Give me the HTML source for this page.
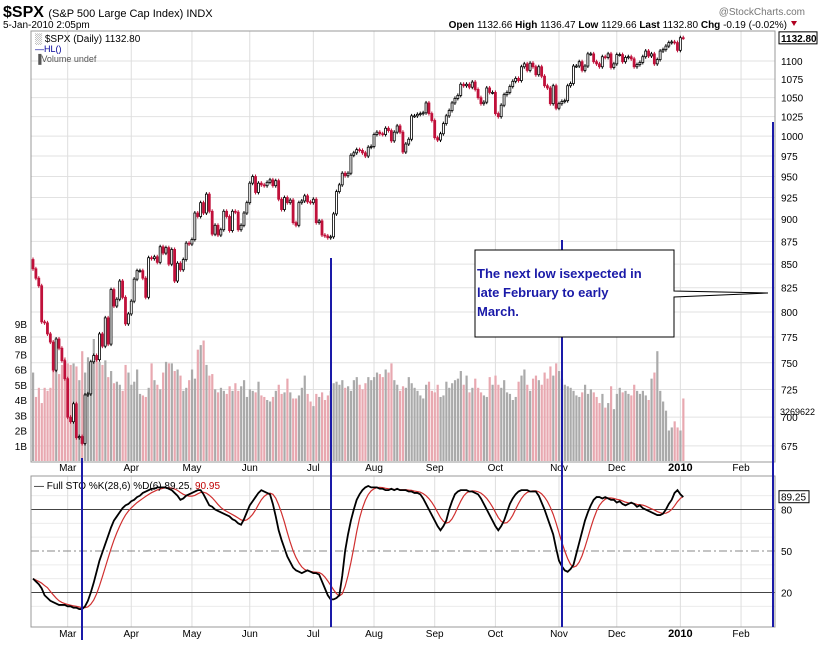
<!DOCTYPE html>
<html><head><meta charset="utf-8">
<style>
body{margin:0;background:#fff;width:820px;height:644px;overflow:hidden;font-family:"Liberation Sans",sans-serif;}
svg text{font-family:"Liberation Sans",sans-serif;}
</style></head>
<body>
<svg id="chart" width="820" height="644" viewBox="0 0 820 644" xmlns="http://www.w3.org/2000/svg">
<g>
<text x="3" y="17" font-size="16" font-weight="bold" fill="#000">$SPX <tspan font-size="11" font-weight="normal">(S&amp;P 500 Large Cap Index) INDX</tspan></text>
<text x="3" y="28" font-size="10" fill="#000">5-Jan-2010 2:05pm</text>
<text x="805" y="15" font-size="10" fill="#777" text-anchor="end">@StockCharts.com</text>
<text x="787" y="28" font-size="10" fill="#000" text-anchor="end"><tspan font-weight="bold">Open</tspan> 1132.66 <tspan font-weight="bold">High</tspan> 1136.47 <tspan font-weight="bold">Low</tspan> 1129.66 <tspan font-weight="bold">Last</tspan> 1132.80 <tspan font-weight="bold">Chg</tspan> -0.19 (-0.02%)</text>
<polygon points="791,21 797,21 794,26" fill="#b00020"/>
</g>
<g id="grid"></g>
<g id="vol"></g>
<g id="price"></g>
<g id="sto"></g>
<g id="frames"></g>
<g id="labels"></g>
<g id="overlay"></g>
</svg>
<script>
const closes = [
845,835,827,790,789,778,770,743,773,764,752,735,
700,696,712,682,683,677,720,721,751,757,753,778,766,794,768,823,806,813,832,815,788,798,
811,834,843,843,835,815,857,856,858,852,869,862,868,850,866,832,851,844,855,873,872,
877,907,903,919,907,929,909,883,893,882,888,909,903,887,909,908,888,893,907,919,
942,950,931,942,940,939,943,946,939,945,923,911,925,919,922,896,893,919,921,927,920,919,
923,896,898,882,881,879,880,906,932,940,954,951,954,976,979,983,982,979,975,986,987,
1002,1005,1003,1002,1010,1007,994,1005,1013,1005,980,990,996,1026,1026,1028,1029,1030,1043,1029,1020,
998,995,1003,1016,1026,1033,1043,1049,1053,1068,1066,1068,1064,1071,1061,1050,1042,1044,1063,1057,1057,
1029,1025,1040,1054,1057,1065,1072,1076,1073,1092,1096,1087,1097,1092,1081,1092,1079,1066,1063,1042,1066,1036,
1042,1045,1046,1066,1069,1093,1093,1099,1087,1093,1110,1110,1099,1096,1092,1106,1105,1110,1091,1096,
1109,1109,1099,1105,1106,1103,1092,1095,1098,1106,1114,1107,1110,1096,1102,1114,1116,1121,1126,1127,1126,1115,
1133,1132.8];
const volumes = [
5.8,4.2,4.8,3.8,4.8,4.6,4.8,5.9,6.4,5.7,6.3,6.8,
6.4,6.3,6.4,6.2,5.3,7.2,5.8,6.8,6.2,8.0,6.7,6.5,6.3,6.6,5.5,5.9,5.1,5.2,5.0,4.6,6.3,5.8,
5.0,5.2,6.0,4.4,4.3,4.2,4.8,6.4,5.3,5.0,4.7,5.8,6.5,6.4,6.4,5.9,6.0,5.6,4.6,4.8,5.3,
6.0,5.4,7.3,7.6,7.9,6.3,5.6,5.7,4.7,4.5,4.8,4.6,4.4,4.9,4.6,5.1,4.6,4.9,5.3,4.2,
4.7,4.6,4.5,5.2,4.3,4.2,4.0,3.9,4.2,4.6,5.0,4.4,4.5,5.4,4.5,4.1,4.1,4.3,4.8,5.6,4.4,3.9,
3.6,4.4,4.2,4.5,4.0,4.3,4.6,5.1,5.2,5.0,5.3,4.8,4.9,4.6,5.3,5.5,5.0,4.7,5.1,5.5,5.3,
5.5,5.8,5.7,5.5,6.0,5.8,6.4,5.3,5.0,4.6,4.9,4.8,5.5,5.1,4.8,4.6,4.3,4.1,5.0,5.2,4.6,
4.5,5.0,4.2,4.3,5.2,4.8,5.1,5.3,5.4,5.9,5.0,5.6,4.5,4.8,5.4,4.8,4.5,4.3,4.2,5.5,5.0,
5.6,5.0,4.8,5.3,4.5,4.4,4.0,4.2,5.2,5.6,6.0,5.0,4.6,5.4,5.6,5.3,5.0,5.8,5.4,6.2,5.6,6.4,
5.9,5.4,5.0,4.9,4.8,4.6,4.3,4.2,4.5,5.0,4.4,4.7,4.5,4.2,3.8,4.4,3.5,3.8,4.9,3.4,
4.4,4.8,4.5,4.6,4.4,4.3,5.0,4.6,4.4,4.6,4.3,4.0,5.4,5.8,7.2,4.6,3.9,3.3,2.0,2.2,2.6,2.2,
2.0,4.1];
const stoK = [
30,28,26,23,18,16,14,13,12,11,11,11,10,10,9,9,8,8,10,14,20,27,35,43,
49,55,61,67,72,75,78,81,83,84,86,87,89,90,92,93,94,95,95,96,96,96,96,
95,94,92,90,87,88,90,91,92,93,94,94,91,87,83,82,80,79,78,77,76,75,73,72,70,69,
73,78,83,86,89,92,94,93,92,91,84,75,65,58,52,46,42,38,36,35,34,35,36,35,34,34,33,
28,23,18,15,15,16,18,32,50,62,72,80,87,91,94,96,97,96,96,96,95,95,94,94,95,94,95,94,94,94,
93,93,92,92,91,88,84,80,76,72,68,65,68,72,80,86,91,93,94,94,94,93,93,92,91,88,84,80,
76,72,68,65,68,72,78,84,88,91,93,94,94,94,93,93,93,90,85,80,74,68,62,52,43,39,36,35,37,40,
48,56,64,72,78,83,87,89,89,88,89,88,87,87,85,86,84,83,84,85,84,82,83,81,80,79,78,77,76,76,
77,80,84,87,92,94,91,89];
const priceTicks = [1100,1075,1050,1025,1000,975,950,925,900,875,850,825,800,775,750,725,700,675];
const volTicks = [9,8,7,6,5,4,3,2,1];
const volTickLabels = ["9B","8B","7B","6B","5B","4B","3B","2B","1B"];
const stoTicks = [80,50,20];
const monthLabels = ["Mar","Apr","May","Jun","Jul","Aug","Sep","Oct","Nov","Dec","2010","Feb"];
const monthStartIdx = [12,34,55,75,97,118,139,160,182,202,224,245];

const NS="http://www.w3.org/2000/svg";
const X0=33, DX=2.89;
const xOf=i=>X0+i*DX;
const yP=p=>61+788*Math.log(1100/p);
const yV=v=>461-v*15.25;
const yS=s=>551+(50-s)*1.383;
const L=31,R=775,T=31,B=462,ST=476,SB=627;
function mk(tag,attrs,parent,txt){const e=document.createElementNS(NS,tag);for(const k in attrs)e.setAttribute(k,attrs[k]);if(txt!==undefined)e.textContent=txt;parent.appendChild(e);return e;}
const g=id=>document.getElementById(id);

// grid
const grid=g('grid');
priceTicks.forEach(p=>{const e=mk('line',{x1:L,x2:R,y1:yP(p),y2:yP(p),stroke:'#e2e2e2','stroke-width':1},grid);

});
[10,30,40,60,70,90].forEach(s=>{const e=mk('line',{x1:L,x2:R,y1:yS(s),y2:yS(s),stroke:'#ececec','stroke-width':1},grid);

});
monthStartIdx.forEach(i=>{const x=xOf(i);
const a=mk('line',{x1:x,x2:x,y1:T,y2:B,stroke:'#dedede'},grid);


const b=mk('line',{x1:x,x2:x,y1:ST,y2:SB,stroke:'#dedede'},grid);

});

// volume
const vol=g('vol');
volumes.forEach((v,i)=>{const down=i>0&&closes[i]<closes[i-1];
const e=mk('rect',{x:xOf(i)-1,y:yV(v),width:2.2,height:461-yV(v),fill:down?'#e8a8b0':'#aaaaaa'},vol);

});

// candles
const pr=g('price');
closes.forEach((c,i)=>{const o=i>0?closes[i-1]:c+10;const up=c>=o;const x=xOf(i);
const y1=yP(Math.max(o,c)),y2=yP(Math.min(o,c));
const w=mk('line',{x1:x,x2:x,y1:y1-2,y2:y2+2,stroke:up?'#000':'#c0103a','stroke-width':1},pr);


const r=mk('rect',{x:x-1,y:y1,width:2,height:Math.max(1,y2-y1),fill:up?'#fff':'#c0103a',stroke:up?'#000':'#c0103a','stroke-width':0.8},pr);

});

// stochastic
const sto=g('sto');
const stoD=stoK.map((k,i)=>{const s=stoK.slice(Math.max(0,i-5),i+1);return s.reduce((a,b)=>a+b,0)/s.length;});
stoTicks.forEach(s=>{const e=mk('line',{x1:L,x2:R,y1:yS(s),y2:yS(s),stroke:s==50?'#888':'#444','stroke-width':1,'stroke-dasharray':s==50?'8,3,2,3':'none'},sto);

});
const dLine=mk('polyline',{points:stoD.map((d,i)=>xOf(i)+','+yS(d)).join(' '),fill:'none',stroke:'#d03030','stroke-width':1.2},sto);


const kLine=mk('polyline',{points:stoK.map((k,i)=>xOf(i)+','+yS(k)).join(' '),fill:'none',stroke:'#000','stroke-width':1.8},sto);



// frames
const fr=g('frames');
[[L,T,R-L,B-T,'price-panel-frame'],[L,ST,R-L,SB-ST,'sto-panel-frame']].forEach(a=>{const e=mk('rect',{x:a[0],y:a[1],width:a[2],height:a[3],fill:'none',stroke:'#999'},fr);

});

// labels
const lb=g('labels');
priceTicks.forEach(p=>{const e=mk('text',{x:781,y:yP(p)+4,'font-size':10,fill:'#000'},lb,String(p));

});
volTicks.forEach((v,k)=>{const e=mk('text',{x:27,y:yV(v)+4,'font-size':10,fill:'#000','text-anchor':'end'},lb,volTickLabels[k]);

});
stoTicks.forEach(s=>{const e=mk('text',{x:781,y:yS(s)+4,'font-size':10,fill:'#000'},lb,String(s));

});
monthLabels.forEach((m,k)=>{const x=xOf(monthStartIdx[k]);[471,637].forEach(y=>{
const e=mk('text',{x:x,y:y,'font-size':m=='2010'?11:10,'font-weight':m=='2010'?'bold':'normal',fill:'#000','text-anchor':'middle'},lb,m);

});});
// legends
let e=mk('text',{x:35,y:42,'font-size':10,fill:'#000','font-family':'Liberation Mono'},lb,'\u2591 $SPX (Daily) 1132.80');


e=mk('text',{x:35,y:52,'font-size':9,fill:'#000099'},lb,'\u2014HL()');


e=mk('text',{x:35,y:62,'font-size':9,fill:'#555'},lb,'\u2590Volume undef');


e=mk('text',{x:34,y:489,'font-size':10,fill:'#000'},lb,'\u2014 Full STO %K(28,6) %D(6) 89.25, ');


mk('tspan',{fill:'#c00000'},e,'90.95');
// last value tags
e=mk('rect',{x:779,y:yP(1132.8)-6,width:38,height:12,fill:'#fff',stroke:'#000'},lb);


e=mk('text',{x:781,y:yP(1132.8)+4,'font-size':10,'font-weight':'bold',fill:'#000'},lb,'1132.80');


e=mk('text',{x:780,y:yV(3.27)+4,'font-size':9,fill:'#000'},lb,'3269622');


e=mk('rect',{x:779,y:yS(89.25)-6,width:30,height:12,fill:'#fff',stroke:'#000'},lb);


e=mk('text',{x:781,y:yS(89.25)+4,'font-size':10,fill:'#000'},lb,'89.25');



// overlay: blue cycle lines and annotation
const ov=g('overlay');
[[82,458,640],[331,258,627],[562,240,627],[773,122,627]].forEach(a=>{const e=mk('line',{x1:a[0],x2:a[0],y1:a[1],y2:a[2],stroke:'#1a1aa8','stroke-width':2},ov);

});
e=mk('polygon',{points:'475,250 674,250 674,291 768,293 674,297 674,337 475,337',fill:'#fff',stroke:'#000','stroke-width':1},ov);


const lines=['The next low isexpected in','late February to early','March.'];
lines.forEach((t,k)=>{const e=mk('text',{x:477,y:278+k*19,'font-size':13,'font-weight':'bold',fill:'#1a1aa8'},ov,t);

});
</script>
</body></html>
